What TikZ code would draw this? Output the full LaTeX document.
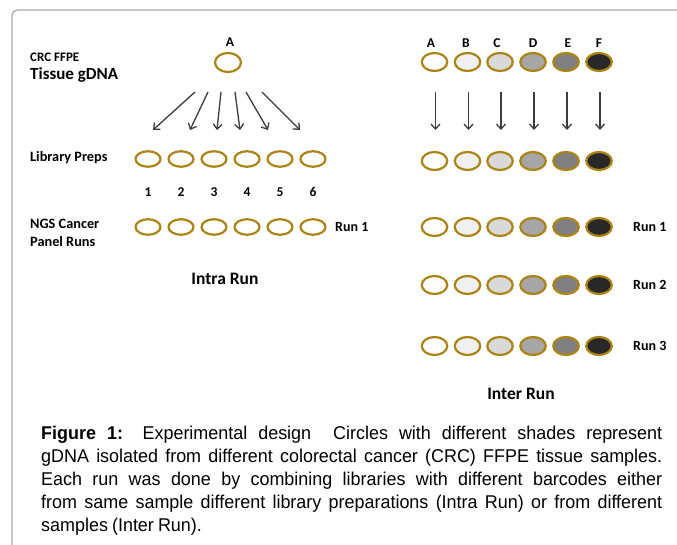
\documentclass[tikz,border=0pt]{standalone}
\usepackage{fontspec}
\setmainfont{Liberation Sans}
\newfontfamily\lblfont{Carlito}
\newfontfamily\capfont[FakeStretch=0.97]{Liberation Sans}
\usetikzlibrary{shapes.geometric,arrows.meta}
\definecolor{gold}{RGB}{172,132,22}
\definecolor{framegray}{RGB}{170,170,170}
\definecolor{arrowgray}{RGB}{60,60,60}
\definecolor{shA}{RGB}{253,253,253}
\definecolor{shB}{RGB}{240,240,240}
\definecolor{shC}{RGB}{217,217,217}
\definecolor{shD}{RGB}{166,166,166}
\definecolor{shE}{RGB}{128,128,128}
\definecolor{shF}{RGB}{40,40,40}
\tikzset{
  ellL/.style={ellipse, draw=gold, line width=2.2pt, fill=white, minimum width=25pt, minimum height=15.5pt, inner sep=0pt},
  ellR/.style={ellipse, draw=gold, line width=2.2pt, minimum width=25.5pt, minimum height=18pt, inner sep=0pt},
  lbl/.style={font=\lblfont\bfseries\fontsize{13.5}{15}\selectfont, inner sep=0pt},
  side/.style={font=\lblfont\bfseries\fontsize{14.3}{18}\selectfont, inner sep=0pt, anchor=west},
  runl/.style={font=\lblfont\bfseries\fontsize{14}{16}\selectfont, inner sep=0pt, anchor=west},
  big/.style={font=\lblfont\bfseries\fontsize{17.5}{20}\selectfont, inner sep=0pt},
  arr/.style={draw=arrowgray, line width=1.3pt, -{Straight Barb[length=5pt,width=9pt,line width=1.3pt]}},
}
\begin{document}
\begin{tikzpicture}[x=1pt,y=-1pt]
\useasboundingbox (0,0) rectangle (677,545);
% frame
\draw[framegray, line width=1.3pt, rounded corners=6pt] (12,545) -- (12,10) -- (680,10);
% left side texts
\node[side, font=\lblfont\bfseries\fontsize{13}{14}\selectfont] (crc) at (30,57) {CRC FFPE};
\node[side, font=\lblfont\bfseries\fontsize{17}{18}\selectfont] (tis) at (30,75) {Tissue gDNA};
\node[side] (lib) at (30,158) {Library Preps};
\node[side, align=left] (ngs) at (30,233) {NGS Cancer\\Panel Runs};
% top ellipse A
\node[lbl] (lA) at (230,42) {A};
\node[ellL, minimum width=26pt, minimum height=19pt] (eA) at (228,62.5) {};
% fan arrows
\foreach \i/\sx/\ex in {1/195/153, 2/208/190, 3/221/217, 4/235/240, 5/246/268, 6/262/300} {
  \coordinate (fs\i) at (\sx,92);
  \coordinate (fe\i) at (\ex,130);
  \draw[arr] (fs\i) -- (fe\i);
}
% library preps and runs
\foreach \i/\x in {1/148,2/181,3/214,4/247,5/280,6/313} {
  \node[ellL] (lp\i) at (\x,159) {};
  \node[lbl] (num\i) at (\x,192) {\i};
  \node[ellL] (lr\i) at (\x,227) {};
}
\node[runl] (run1L) at (335,227) {Run 1};
\node[big] (intra) at (225,279) {Intra Run};
% right side
\foreach \i/\x/\c in {1/434.5/shA,2/467.5/shB,3/500/shC,4/533/shD,5/566/shE,6/599/shF} {
  \node[ellR, fill=\c] (t\i) at (\x,62) {};
  \coordinate (vs\i) at (\x+1,92);
  \coordinate (ve\i) at (\x+1,130);
  \draw[arr] (vs\i) -- (ve\i);
  \node[ellR, fill=\c] (p\i) at (\x,161) {};
  \node[ellR, fill=\c] (ra\i) at (\x,227) {};
  \node[ellR, fill=\c] (rb\i) at (\x,285) {};
  \node[ellR, fill=\c] (rc\i) at (\x,346) {};
}
\foreach \i/\l/\x in {1/A/431,2/B/466,3/C/497,4/D/533,5/E/568,6/F/599} {
  \node[lbl] (L\i) at (\x,43) {\l};
}
\node[runl] (run1) at (633,227) {Run 1};
\node[runl] (run2) at (633,285) {Run 2};
\node[runl] (run3) at (633,346) {Run 3};
\node[big] (inter) at (521,394) {Inter Run};
% caption
\node[anchor=north west, inner sep=0pt, text width=621pt, align=justify,
      font=\capfont\fontsize{18.5}{23}\selectfont] (cap) at (41,426)
 {\spaceskip=0.22em plus 0.6em minus 0.15em\relax
 \textbf{Figure 1:} Experimental design\ \ Circles with different shades represent\linebreak
 gDNA isolated from different colorectal cancer (CRC) FFPE tissue samples.\linebreak
 Each run was done by combining libraries with different barcodes either\linebreak
 from same sample different library preparations (Intra Run) or from different\linebreak
 samples (Inter Run).};
\end{tikzpicture}
\end{document}
